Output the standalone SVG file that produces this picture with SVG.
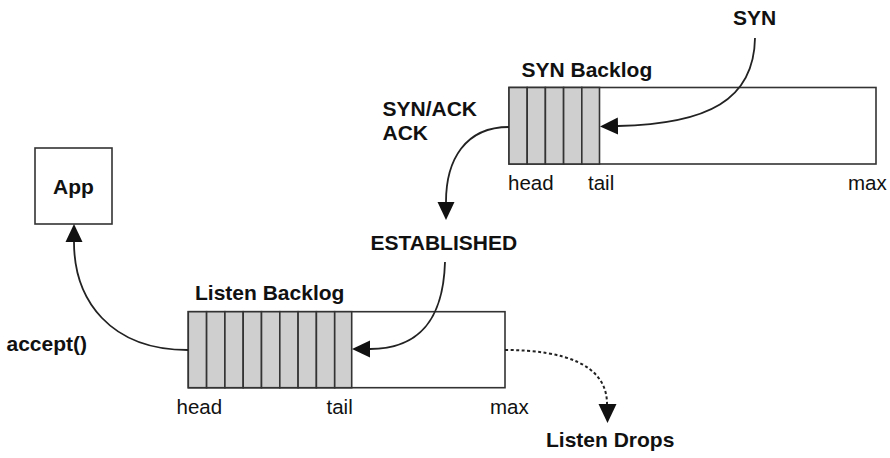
<svg xmlns="http://www.w3.org/2000/svg" width="890" height="458" viewBox="0 0 890 458">
<style>
.b{font-family:"Liberation Sans",Arial,sans-serif;font-weight:bold;font-size:21px;fill:#111}
.r{font-family:"Liberation Sans",Arial,sans-serif;font-size:20.5px;fill:#111}
.box{fill:#fff;stroke:#333;stroke-width:1.6}
.cell{fill:#cfcfcf;stroke:#333;stroke-width:1.6}
.con{fill:none;stroke:#222;stroke-width:1.8}
.dot{fill:none;stroke:#222;stroke-width:2;stroke-dasharray:3 2.5}
</style>
<defs>
<marker id="ah" viewBox="0 -10 20 20" refX="0" refY="0" markerWidth="20" markerHeight="20" markerUnits="userSpaceOnUse" orient="auto">
<path d="M0,-8.5 L18,0 L0,8.5 z" fill="#111"/>
</marker>
</defs>
<rect width="890" height="458" fill="#fff"/>

<g id="app">
<rect class="box" x="35" y="148" width="77" height="76"/>
<text class="b" x="73.5" y="194" text-anchor="middle">App</text>
</g>

<g id="syn-backlog">
<text class="b" x="521.5" y="76.5">SYN Backlog</text>
<rect class="box" x="509" y="87.5" width="367" height="76.5"/>
<rect class="cell" x="509" y="87.5" width="18.2" height="76.5"/>
<rect class="cell" x="527.2" y="87.5" width="18.2" height="76.5"/>
<rect class="cell" x="545.4" y="87.5" width="18.2" height="76.5"/>
<rect class="cell" x="563.6" y="87.5" width="18.2" height="76.5"/>
<rect class="cell" x="581.8" y="87.5" width="17.7" height="76.5"/>
<text class="r" x="508" y="189.5">head</text>
<text class="r" x="588" y="189.5">tail</text>
<text class="r" x="848" y="189.5">max</text>
</g>

<g id="listen-backlog">
<text class="b" x="195" y="300">Listen Backlog</text>
<rect class="box" x="188.3" y="311.7" width="316.7" height="76"/>
<rect class="cell" x="188.3" y="311.7" width="18.3" height="76"/>
<rect class="cell" x="206.6" y="311.7" width="18.3" height="76"/>
<rect class="cell" x="224.9" y="311.7" width="18.3" height="76"/>
<rect class="cell" x="243.2" y="311.7" width="18.3" height="76"/>
<rect class="cell" x="261.5" y="311.7" width="18.3" height="76"/>
<rect class="cell" x="279.8" y="311.7" width="18.3" height="76"/>
<rect class="cell" x="298.1" y="311.7" width="18.3" height="76"/>
<rect class="cell" x="316.4" y="311.7" width="18.3" height="76"/>
<rect class="cell" x="334.7" y="311.7" width="17" height="76"/>
<text class="r" x="176.5" y="413.5">head</text>
<text class="r" x="326.5" y="413.5">tail</text>
<text class="r" x="490" y="413.5">max</text>
</g>

<g id="syn-label">
<text class="b" x="733" y="25">SYN</text>
</g>

<g id="synack-label">
<text class="b" x="382.5" y="115.5">SYN/ACK</text>
<text class="b" x="382.5" y="139.5">ACK</text>
</g>

<g id="established">
<text class="b" x="370.5" y="249.5">ESTABLISHED</text>
</g>

<g id="accept-label">
<text class="b" x="6.5" y="351">accept()</text>
</g>

<g id="listen-drops">
<text class="b" x="546" y="447">Listen Drops</text>
</g>

<g id="connectors">
<path class="con" d="M755,38 C754,100 708,124 618,126" marker-end="url(#ah)"/>
<path class="con" d="M509,127 C465,127 446,160 446,202" marker-end="url(#ah)"/>
<path class="con" d="M445,262 C443,330 410,349 370,349" marker-end="url(#ah)"/>
<path class="con" d="M188,350 C110,350 74,300 74,242" marker-end="url(#ah)"/>
<path class="dot" d="M505,350 C565,350 607,365 607,404"/>
<path d="M598.5,404 L616.5,404 L607.5,423 z" fill="#111"/>
</g>
</svg>
